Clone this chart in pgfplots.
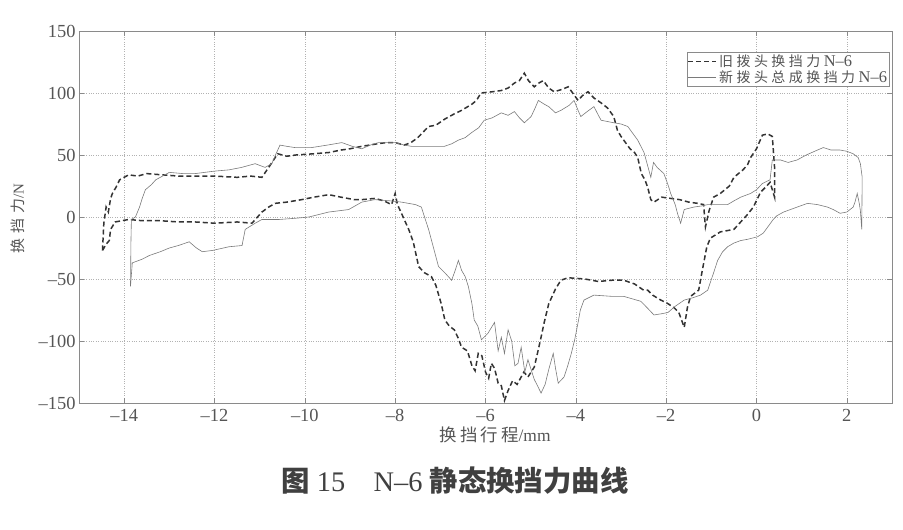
\documentclass[border=0pt]{standalone}
\usepackage{fontspec}
\setmainfont{Liberation Serif}
\newfontfamily\cjk{Noto Sans CJK SC}
\usepackage{pgfplots}
\pgfplotsset{compat=1.18}
\definecolor{oldc}{HTML}{333333}
\definecolor{newc}{HTML}{7A7A7A}
\definecolor{framec}{HTML}{8A8A8A}
\definecolor{txtc}{HTML}{555555}
\newcommand\ls{\hspace{3.5bp}}
\newcommand\xs{\hspace{3bp}}
\newcommand\ys{\hspace{5bp}}
\begin{document}
\begin{tikzpicture}
\begin{axis}[
  scale only axis,
  width=813bp, height=372bp,
  xmin=-15, xmax=3, ymin=-150, ymax=150,
  xtick={-14,-12,...,2}, ytick={-150,-100,...,150},
  xticklabels={–14,–12,–10,–8,–6,–4,–2,0,2},
  yticklabels={–150,–100,–50,0,50,100,150},
  tick align=inside, major tick length=5bp,
  axis line style={framec, line width=0.7pt},
  every tick/.style={framec, line width=0.6pt},
  grid=major,
  major grid style={dotted, color=black!30, line width=0.6pt},
  tick label style={font=\fontsize{18.5}{19}\selectfont, text=txtc},
  xticklabel style={yshift=-3bp},
  xlabel={{\cjk 换\xs 挡\xs 行\xs 程}/mm},
  ylabel={{\cjk 换\ys 挡\ys 力}/N},
  xlabel style={at={(axis description cs:0.512,-0.086)}, anchor=center, font=\fontsize{17.5}{18}\selectfont, text=txtc},
  ylabel style={at={(axis description cs:-0.075,0.495)}, anchor=center, rotate=0, font=\fontsize{15}{16}\selectfont, text=txtc},
  legend style={at={(axis cs:2.95,133)}, anchor=north east, draw=framec, line width=0.5pt,
    font=\fontsize{14}{15}\selectfont, text=txtc, inner sep=0.5pt, row sep=-1.5pt, fill=white},
  legend cell align=left,
  legend image code/.code={\draw[#1] (0bp,0bp) -- (28bp,0bp);},
]
\coordinate (O) at (rel axis cs:0,0);
\addplot[oldc, line width=1.5pt, dash pattern=on 5bp off 3bp] coordinates {
(-14.48,-27) (-14.45,-5) (-14.4,8) (-14.35,4) (-14.3,15) (-14.26,19) (-14.18,24) (-14.1,30) (-13.9,34) (-13.7,33) (-13.5,35) (-13.16,34) (-12.8,33) (-12.5,33) (-12,33) (-11.5,32) (-11.2,33) (-10.95,32) (-10.8,40) (-10.6,51) (-10.4,49) (-10.2,50) (-9.8,51) (-9.47,52) (-9.2,54) (-9,55) (-8.74,57) (-8.4,59) (-8.2,60) (-8.0,60) (-7.8,58) (-7.65,60) (-7.5,64) (-7.26,73) (-7.1,74) (-6.9,79) (-6.7,83) (-6.53,86) (-6.3,91) (-6.2,94) (-6.1,100) (-5.85,101) (-5.65,102) (-5.5,104) (-5.36,108) (-5.25,110) (-5.14,116) (-5.05,110) (-4.92,105) (-4.82,108) (-4.72,110) (-4.6,104) (-4.48,101) (-4.3,103) (-4.17,105) (-4.05,99) (-3.95,94) (-3.85,98) (-3.73,101) (-3.6,96) (-3.44,92) (-3.3,88) (-3.16,81) (-3.08,70) (-3.0,65) (-2.9,60) (-2.8,55) (-2.7,52) (-2.63,48) (-2.55,35) (-2.47,30) (-2.41,24) (-2.34,14) (-2.27,12) (-2.1,16) (-1.9,15) (-1.7,14) (-1.5,12) (-1.3,11) (-1.17,10) (-1.15,0) (-1.13,-8) (-1.05,5) (-0.95,16) (-0.8,19) (-0.7,22) (-0.6,25) (-0.5,32) (-0.3,38) (-0.2,42) (-0.13,48) (0,55) (0.13,66) (0.25,67) (0.35,65) (0.4,40) (0.4,16)
(0.3,28) (0.2,24) (0.09,20) (-0.07,8) (-0.2,2) (-0.35,-4) (-0.5,-10) (-0.65,-11) (-0.8,-12) (-1.02,-17) (-1.1,-24) (-1.2,-43) (-1.28,-59) (-1.46,-64) (-1.53,-73) (-1.6,-89) (-1.72,-77) (-1.83,-73) (-2.0,-69) (-2.12,-67) (-2.3,-63) (-2.41,-59) (-2.5,-59) (-2.7,-54) (-2.94,-51) (-3.2,-51) (-3.5,-52) (-3.8,-50) (-4.17,-49) (-4.33,-51) (-4.45,-58) (-4.6,-70) (-4.7,-85) (-4.77,-97) (-4.85,-110) (-4.92,-121) (-5.06,-129) (-5.15,-125) (-5.3,-135) (-5.4,-132) (-5.5,-140) (-5.58,-148) (-5.65,-136) (-5.72,-134) (-5.8,-122) (-5.87,-118) (-5.93,-130) (-6.0,-125) (-6.08,-112) (-6.16,-110) (-6.23,-124) (-6.3,-120) (-6.4,-108) (-6.53,-105) (-6.6,-98) (-6.69,-91) (-6.8,-88) (-6.9,-83) (-6.98,-70) (-7.1,-55) (-7.2,-48) (-7.35,-45) (-7.48,-40) (-7.6,-20) (-7.7,-10) (-7.8,-2) (-7.86,3) (-7.95,10) (-8.0,19) (-8.08,10) (-8.25,13) (-8.45,15) (-8.74,14) (-8.9,14) (-9.2,16) (-9.47,18) (-9.8,16) (-10.07,14) (-10.4,12) (-10.66,11) (-10.8,8) (-10.95,4) (-11.17,-5) (-11.5,-4) (-12.0,-5) (-12.43,-4) (-12.8,-4) (-13.2,-3) (-13.6,-3) (-13.9,-2) (-14.2,-4) (-14.3,-10) (-14.33,-19) (-14.4,-22) (-14.48,-27)
};
\addlegendentry{{\cjk 旧\ls 拨\ls 头\ls 换\ls 挡\ls 力}\ls {\fontsize{16.5}{15}\selectfont N–6}}
\addplot[newc, line width=0.6pt] coordinates {
(-13.86,-56) (-13.85,-20) (-13.84,-2) (-13.75,0) (-13.66,8) (-13.6,15) (-13.53,22) (-13.4,26) (-13.3,30) (-13.15,33) (-13.0,36) (-12.7,35) (-12.43,35) (-12.0,37) (-11.68,38) (-11.4,40) (-11.1,43) (-10.88,40) (-10.73,43) (-10.65,50) (-10.55,58) (-10.4,57) (-10.22,56) (-9.85,56) (-9.5,58) (-9.18,60) (-8.95,57) (-8.74,55) (-8.55,58) (-8.37,60) (-8.0,60) (-7.8,58) (-7.64,57) (-7.26,57) (-6.91,57) (-6.75,59) (-6.6,62) (-6.45,64) (-6.31,68) (-6.15,72) (-6.03,78) (-5.85,80) (-5.65,84) (-5.5,82) (-5.36,85) (-5.25,80) (-5.14,76) (-4.99,81) (-4.9,88) (-4.83,94) (-4.7,91) (-4.6,89) (-4.45,84) (-4.33,86) (-4.15,90) (-4.04,94) (-3.95,86) (-3.89,81) (-3.75,85) (-3.6,89) (-3.5,82) (-3.44,78) (-3.3,77) (-3.16,76) (-3.0,75) (-2.85,73) (-2.75,68) (-2.63,62) (-2.49,52) (-2.4,40) (-2.34,32) (-2.28,44) (-2.2,40) (-2.05,35) (-1.95,25) (-1.9,19) (-1.8,10) (-1.75,3) (-1.68,-5) (-1.6,6) (-1.5,7) (-1.39,8) (-1.2,9) (-1.08,10) (-0.8,10) (-0.64,10) (-0.5,13) (-0.35,16) (-0.13,19) (0,22) (0.13,27) (0.3,30) (0.35,46) (0.53,46) (0.7,44) (0.9,46) (1.1,50) (1.35,54) (1.48,56) (1.65,54) (1.85,54) (2.0,53) (2.14,51) (2.25,48) (2.3,43) (2.34,32) (2.33,-10) (2.3,5) (2.28,10) (2.23,19) (2.18,12) (2.14,8) (2.0,4) (1.85,3) (1.7,6) (1.57,8) (1.35,10) (1.13,11) (0.9,8) (0.6,4) (0.45,1) (0.37,-2) (0.25,-8) (0.15,-13) (0.02,-16) (-0.2,-18) (-0.35,-19) (-0.5,-21) (-0.64,-24) (-0.75,-28) (-0.86,-35) (-0.95,-45) (-1.08,-59) (-1.24,-63) (-1.4,-65) (-1.6,-67) (-1.8,-72) (-1.96,-77) (-2.1,-78) (-2.27,-79) (-2.4,-74) (-2.56,-68) (-2.75,-66) (-2.94,-64) (-3.2,-64) (-3.6,-63) (-3.82,-67) (-3.9,-75) (-3.95,-85) (-4.02,-98) (-4.1,-110) (-4.18,-120) (-4.26,-129) (-4.39,-134) (-4.45,-122) (-4.5,-110) (-4.6,-123) (-4.68,-135) (-4.77,-142) (-4.85,-136) (-4.92,-131) (-5.0,-122) (-5.06,-115) (-5.13,-125) (-5.21,-105) (-5.28,-118) (-5.35,-120) (-5.42,-100) (-5.5,-91) (-5.58,-110) (-5.65,-97) (-5.72,-108) (-5.8,-85) (-5.95,-94) (-6.09,-99) (-6.17,-88) (-6.25,-83) (-6.3,-70) (-6.38,-56) (-6.45,-48) (-6.53,-43) (-6.6,-35) (-6.68,-44) (-6.75,-51) (-6.9,-45) (-7.04,-40) (-7.15,-25) (-7.26,-10) (-7.35,0) (-7.42,8) (-7.55,10) (-7.86,12) (-8.1,13) (-8.45,14) (-8.74,12) (-9.03,6) (-9.47,4) (-9.91,0) (-10.2,-1) (-10.57,-2) (-10.95,-2) (-11.1,-5) (-11.32,-10) (-11.39,-23) (-11.68,-24) (-12.05,-27) (-12.27,-28) (-12.4,-25) (-12.56,-20) (-12.8,-23) (-13.0,-25) (-13.2,-28) (-13.44,-31) (-13.6,-34) (-13.82,-37) (-13.86,-56)
};
\addlegendentry{{\cjk 新\ls 拨\ls 头\ls 总\ls 成\ls 换\ls 挡\ls 力}\ls {\fontsize{16.5}{15}\selectfont N–6}}
\end{axis}
\path (O) ++(-79bp,-127bp) rectangle ++(903bp,530bp);
\node[anchor=center, text=black!75, font=\fontsize{28.5}{30}\selectfont] at ([shift={(376bp,-78bp)}]O) {{\cjk\bfseries 图} 15\quad N–6 {\cjk\bfseries 静态换挡力曲线}};
\end{tikzpicture}
\end{document}
